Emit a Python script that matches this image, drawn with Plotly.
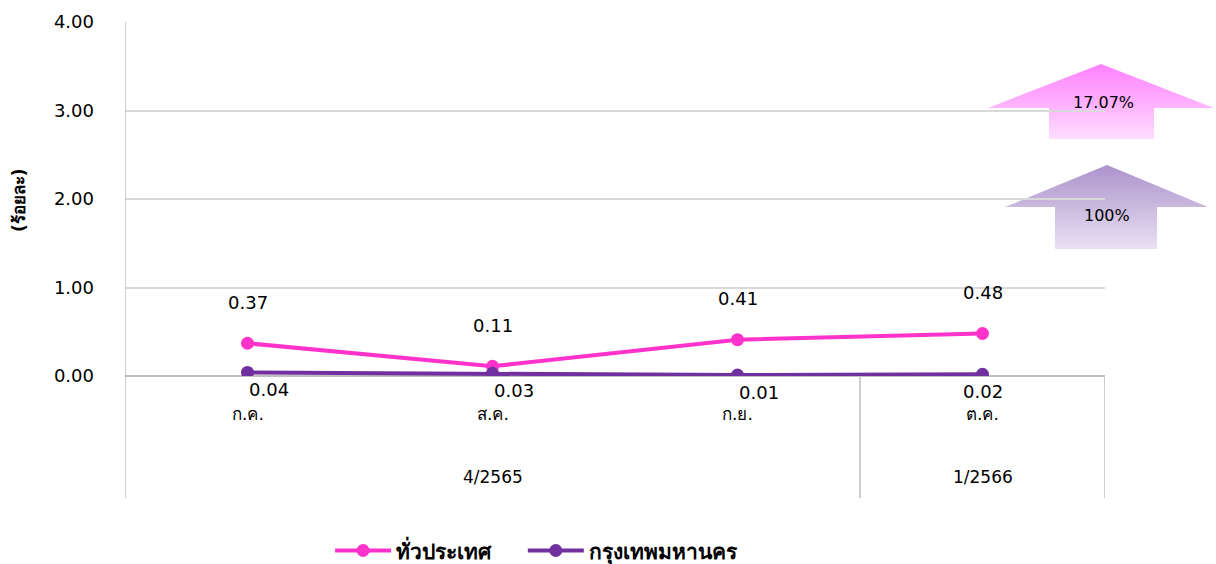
import plotly.graph_objects as go
import base64

months = ["ก.ค.", "ส.ค.", "ก.ย.", "ต.ค."]
quarters = ["4/2565", "1/2566"]
quarter_centers = [1, 3]
quarter_bounds = [-0.5, 2.5, 3.5]
nationwide = [0.37, 0.11, 0.41, 0.48]
bangkok = [0.04, 0.03, 0.01, 0.02]
y_ticks = [0, 1, 2, 3, 4]
y_tick_labels = ["0.00", "1.00", "2.00", "3.00", "4.00"]
arrow_labels = ["17.07%", "100%"]
series_names = ["ทั่วประเทศ", "กรุงเทพมหานคร"]

PINK = "#FF33CC"
PURPLE = "#7030A0"
FONT = "'DejaVu Sans', Tahoma, 'Noto Sans', sans-serif"
FS = 18

x = list(range(len(months)))

fig = go.Figure()
fig.add_trace(go.Scatter(x=x, y=nationwide, mode="lines+markers",
                         name=f"<b>{series_names[0]}</b>&nbsp;&nbsp;&nbsp;&nbsp;",
                         line=dict(color=PINK, width=4), marker=dict(size=13, color=PINK)))
fig.add_trace(go.Scatter(x=x, y=bangkok, mode="lines+markers",
                         name=f"<b>{series_names[1]}</b>",
                         line=dict(color=PURPLE, width=4), marker=dict(size=13, color=PURPLE)))

ann = []
for xi, v in zip(x, nationwide):
    ann.append(dict(x=xi, y=v, xref="x", yref="y", text=f"{v:.2f}", showarrow=False,
                    yshift=41, font=dict(size=FS, color="black", family=FONT)))
for xi, v in zip(x, bangkok):
    ann.append(dict(x=xi, y=v, xref="x", yref="y", text=f"{v:.2f}", showarrow=False,
                    yshift=-17, xshift=21 if xi < 3 else 0,
                    font=dict(size=FS, color="black", family=FONT)))
for xi, m in zip(x, months):
    ann.append(dict(x=xi, y=-0.108, xref="x", yref="paper", text=m, showarrow=False,
                    xanchor="center", yanchor="middle",
                    font=dict(size=FS - 1, color="black", family=FONT)))
for c, q in zip(quarter_centers, quarters):
    ann.append(dict(x=c, y=-0.285, xref="x", yref="paper", text=q, showarrow=False,
                    xanchor="center", yanchor="middle",
                    font=dict(size=FS - 1, color="black", family=FONT)))
ann.append(dict(x=(19 - 125) / 980, y=(376 - 200) / 354, xref="paper", yref="paper",
                text="<b>(ร้อยละ)</b>", textangle=-90, showarrow=False,
                xanchor="center", yanchor="middle",
                font=dict(size=FS - 1, color="black", family=FONT)))
ann.append(dict(x=(1103 - 125) / 980, y=(376 - 103) / 354, xref="paper", yref="paper",
                text=arrow_labels[0], showarrow=False, xanchor="center", yanchor="middle",
                font=dict(size=16, color="black", family=FONT)))
ann.append(dict(x=(1107 - 125) / 980, y=(376 - 216) / 354, xref="paper", yref="paper",
                text=arrow_labels[1], showarrow=False, xanchor="center", yanchor="middle",
                font=dict(size=16, color="black", family=FONT)))

shapes = []
for b in quarter_bounds:
    y1 = 1 if b == -0.5 else 0
    shapes.append(dict(type="line", xref="x", yref="paper", x0=b, x1=b, y0=-0.345, y1=y1,
                       line=dict(color="#BFBFBF", width=1.5)))


def arrow_svg(top, bottom, tipx, wingl, wingr, shl, shr, wingy):
    svg = f'''<svg xmlns="http://www.w3.org/2000/svg" width="100" height="100" viewBox="0 0 100 100" preserveAspectRatio="none">
<defs><linearGradient id="g" x1="0" y1="0" x2="0" y2="1"><stop offset="0" stop-color="{top}"/><stop offset="1" stop-color="{bottom}"/></linearGradient></defs>
<polygon points="{tipx},0 {wingr},{wingy} {shr},{wingy} {shr},100 {shl},100 {shl},{wingy} {wingl},{wingy}" fill="url(#g)"/></svg>'''
    return "data:image/svg+xml;base64," + base64.b64encode(svg.encode()).decode()


pink_src = arrow_svg("#FF80FF", "#FFDDFF", (1101 - 988) / 226 * 100, 0, 100,
                     (1049 - 988) / 226 * 100, (1154 - 988) / 226 * 100, (108 - 64) / 75 * 100)
purple_src = arrow_svg("#AC92CC", "#E9E1F2", (1107 - 1005) / 203 * 100, 0, 100,
                       (1055 - 1005) / 203 * 100, (1157 - 1005) / 203 * 100, (207 - 165) / 84 * 100)
images = [
    dict(source=pink_src, xref="paper", yref="paper", x=(988 - 125) / 980, y=(376 - 64) / 354,
         sizex=226 / 980, sizey=75 / 354, xanchor="left", yanchor="top", sizing="stretch", layer="below"),
    dict(source=purple_src, xref="paper", yref="paper", x=(1005 - 125) / 980, y=(376 - 165) / 354,
         sizex=203 / 980, sizey=84 / 354, xanchor="left", yanchor="top", sizing="stretch", layer="below"),
]

fig.update_layout(
    width=1216, height=564,
    margin=dict(l=125, r=111, t=22, b=188, autoexpand=False),
    plot_bgcolor="white", paper_bgcolor="white",
    font=dict(family=FONT, size=FS, color="black"),
    xaxis=dict(range=[-0.5, 3.5], showticklabels=False, showgrid=False, zeroline=False,
               showline=False, tickvals=x),
    yaxis=dict(range=[0, 4], tickvals=y_ticks, ticktext=y_tick_labels, showgrid=True,
               gridcolor="#D9D9D9", gridwidth=1.5, zeroline=True, zerolinecolor="#BFBFBF",
               zerolinewidth=1.5, showline=False, ticks="", ticklabelstandoff=30,
               tickfont=dict(size=FS, family=FONT, color="black")),
    legend=dict(orientation="h", x=0.42, xanchor="center", y=-0.494, yanchor="middle",
                font=dict(size=21, family=FONT, color="black"), itemwidth=56),
    annotations=ann, shapes=shapes, images=images,
    showlegend=True,
)
fig.write_html("out.html", config={"displayModeBar": False},
               post_script="document.body.style.margin='0';document.body.style.overflow='hidden';")
